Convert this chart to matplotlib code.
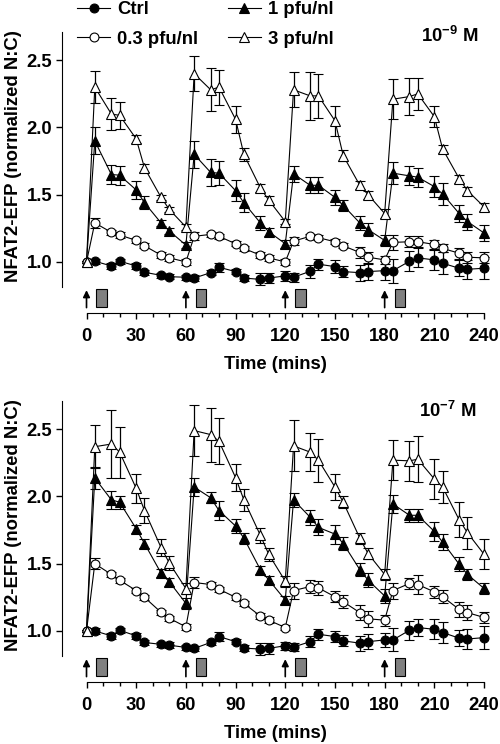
import numpy as np
import matplotlib
matplotlib.use('Agg')
import matplotlib.pyplot as plt
from matplotlib.lines import Line2D
from matplotlib.patches import Rectangle

plt.rcParams['font.family'] = ['Liberation Sans', 'DejaVu Sans']
plt.rcParams['font.weight'] = 'bold'
plt.rcParams['axes.labelweight'] = 'bold'
plt.rcParams['font.size'] = 13.3
plt.rcParams['mathtext.fontset'] = 'custom'
plt.rcParams['mathtext.rm'] = 'Liberation Sans:bold'
plt.rcParams['mathtext.bf'] = 'Liberation Sans:bold'
plt.rcParams['mathtext.it'] = 'Liberation Sans:bold'

# time points (mins)
t = [0, 5, 15, 20, 30, 35, 45, 50, 60, 65, 75, 80, 90, 95, 105, 110,
     120, 125, 135, 140, 150, 155, 165, 170, 180, 185, 195, 200, 210, 215, 225, 230, 240]

labels = ['Ctrl', '0.3 pfu/nl', '1 pfu/nl', '3 pfu/nl']
stim_times = [0, 60, 120, 180]

# 10^-9 M
ctrl_9 = [1.00, 1.005, 0.97, 1.005, 0.97, 0.923, 0.90, 0.89, 0.886, 0.88, 0.92, 0.96, 0.928, 0.88, 0.87, 0.88,
          0.896, 0.886, 0.93, 0.983, 0.965, 0.928, 0.92, 0.928, 0.935, 0.935, 1.005, 1.03, 1.015, 0.99, 0.953, 0.945, 0.953]
ctrl_9_err = [0.01, 0.02, 0.02, 0.02, 0.02, 0.02, 0.02, 0.02, 0.02, 0.02, 0.02, 0.035, 0.02, 0.02, 0.045, 0.04,
              0.035, 0.035, 0.05, 0.04, 0.05, 0.04, 0.06, 0.06, 0.07, 0.09, 0.075, 0.07, 0.075, 0.08, 0.06, 0.07, 0.08]
low_9 = [1.0, 1.29, 1.22, 1.20, 1.16, 1.12, 1.05, 1.03, 1.0, 1.19, 1.205, 1.19, 1.135, 1.10, 1.05, 1.03,
         1.0, 1.155, 1.19, 1.18, 1.15, 1.12, 1.07, 1.035, 1.015, 1.145, 1.15, 1.15, 1.13, 1.10, 1.065, 1.035, 1.03]
low_9_err = [0.01, 0.04, 0.02, 0.02, 0.02, 0.02, 0.02, 0.02, 0.02, 0.03, 0.02, 0.02, 0.02, 0.02, 0.02, 0.02,
             0.02, 0.03, 0.02, 0.02, 0.02, 0.02, 0.04, 0.04, 0.03, 0.055, 0.04, 0.04, 0.035, 0.03, 0.04, 0.04, 0.04]
mid_9 = [1.0, 1.90, 1.65, 1.645, 1.535, 1.44, 1.29, 1.23, 1.125, 1.80, 1.665, 1.66, 1.53, 1.44, 1.29, 1.225,
         1.135, 1.655, 1.57, 1.57, 1.48, 1.42, 1.29, 1.24, 1.16, 1.66, 1.64, 1.63, 1.56, 1.505, 1.36, 1.30, 1.215]
mid_9_err = [0.01, 0.10, 0.07, 0.07, 0.07, 0.05, 0.02, 0.02, 0.02, 0.10, 0.10, 0.09, 0.08, 0.07, 0.05, 0.03,
             0.03, 0.06, 0.06, 0.06, 0.055, 0.04, 0.05, 0.05, 0.04, 0.08, 0.07, 0.07, 0.08, 0.08, 0.06, 0.06, 0.06]
high_9 = [1.0, 2.30, 2.10, 2.09, 1.915, 1.70, 1.48, 1.39, 1.26, 2.40, 2.28, 2.30, 2.06, 1.80, 1.55, 1.46,
          1.30, 2.28, 2.235, 2.235, 2.05, 1.79, 1.57, 1.50, 1.36, 2.21, 2.23, 2.25, 2.08, 1.84, 1.62, 1.53, 1.41]
high_9_err = [0.01, 0.12, 0.12, 0.10, 0.03, 0.03, 0.02, 0.02, 0.02, 0.13, 0.16, 0.13, 0.10, 0.05, 0.03, 0.03,
              0.02, 0.13, 0.18, 0.165, 0.11, 0.04, 0.03, 0.03, 0.03, 0.15, 0.14, 0.12, 0.08, 0.03, 0.03, 0.03, 0.03]

# 10^-7 M
ctrl_7 = [1.0, 1.0, 0.963, 1.005, 0.963, 0.914, 0.90, 0.894, 0.877, 0.87, 0.914, 0.958, 0.92, 0.872, 0.865, 0.87,
          0.89, 0.88, 0.92, 0.975, 0.958, 0.926, 0.909, 0.92, 0.933, 0.933, 1.005, 1.025, 1.012, 0.988, 0.946, 0.94, 0.95]
ctrl_7_err = [0.01, 0.02, 0.02, 0.02, 0.02, 0.02, 0.02, 0.02, 0.02, 0.02, 0.02, 0.035, 0.02, 0.02, 0.045, 0.04,
              0.03, 0.03, 0.04, 0.04, 0.04, 0.04, 0.055, 0.055, 0.055, 0.085, 0.07, 0.06, 0.075, 0.075, 0.06, 0.075, 0.085]
low_7 = [1.0, 1.50, 1.42, 1.377, 1.30, 1.25, 1.138, 1.094, 1.03, 1.36, 1.345, 1.31, 1.25, 1.205, 1.11, 1.08,
         1.025, 1.30, 1.33, 1.32, 1.254, 1.217, 1.136, 1.09, 1.08, 1.30, 1.353, 1.345, 1.29, 1.254, 1.16, 1.136, 1.10]
low_7_err = [0.01, 0.04, 0.02, 0.02, 0.02, 0.02, 0.02, 0.02, 0.02, 0.04, 0.02, 0.02, 0.02, 0.02, 0.02, 0.02,
             0.02, 0.06, 0.05, 0.05, 0.04, 0.05, 0.055, 0.06, 0.04, 0.06, 0.04, 0.07, 0.045, 0.05, 0.057, 0.055, 0.04]
mid_7 = [1.0, 2.137, 1.975, 1.957, 1.76, 1.65, 1.43, 1.365, 1.205, 2.07, 1.99, 1.895, 1.78, 1.69, 1.455, 1.38,
         1.23, 1.974, 1.846, 1.77, 1.72, 1.65, 1.456, 1.377, 1.26, 1.944, 1.86, 1.86, 1.74, 1.66, 1.496, 1.42, 1.316]
mid_7_err = [0.01, 0.08, 0.065, 0.05, 0.03, 0.03, 0.03, 0.03, 0.04, 0.07, 0.04, 0.07, 0.05, 0.04, 0.03, 0.03,
             0.03, 0.05, 0.055, 0.06, 0.07, 0.05, 0.05, 0.05, 0.05, 0.07, 0.05, 0.05, 0.07, 0.06, 0.05, 0.04, 0.04]
high_7 = [1.0, 2.37, 2.39, 2.33, 2.06, 1.895, 1.62, 1.505, 1.315, 2.49, 2.46, 2.41, 2.14, 1.975, 1.71, 1.57,
          1.37, 2.376, 2.33, 2.27, 2.07, 1.957, 1.69, 1.575, 1.42, 2.27, 2.265, 2.277, 2.13, 2.07, 1.826, 1.73, 1.57]
high_7_err = [0.01, 0.16, 0.25, 0.19, 0.11, 0.095, 0.06, 0.05, 0.04, 0.19, 0.20, 0.17, 0.10, 0.08, 0.055, 0.05,
              0.04, 0.19, 0.14, 0.16, 0.10, 0.045, 0.04, 0.04, 0.04, 0.15, 0.15, 0.17, 0.15, 0.12, 0.13, 0.12, 0.11]

styles = [('o', 'black', 6.4), ('o', 'white', 6.4), ('^', 'black', 7), ('^', 'white', 7)]


def draw_panel(ax, series):
    for (vals, errs), (mk, fc, ms) in zip(series, styles):
        ax.errorbar(t, vals, yerr=errs, color='black', lw=0.8, marker=mk, ms=ms, mfc=fc,
                    mec='black', mew=0.8, capsize=3.5, elinewidth=0.9, capthick=0.9, clip_on=False)
    for s in stim_times:
        ax.annotate('', xy=(s, 0.79), xytext=(s, 0.66),
                    arrowprops=dict(arrowstyle='-|>', color='black', lw=1.2, mutation_scale=10,
                                    shrinkA=0, shrinkB=0))
        ax.add_patch(Rectangle((s + 6, 0.667), 6.3, 0.13, fc='#808080', ec='black', lw=0.8))
    ax.set_xlim(-14.8, 243)
    ax.set_ylim(0.62, 2.71)
    for side in ['top', 'right']:
        ax.spines[side].set_visible(False)
    ax.spines['left'].set_bounds(0.81, 2.71)
    ax.spines['bottom'].set_bounds(0, 240)
    ax.set_xticks(range(0, 241, 30))
    ax.set_xticks(range(0, 241, 10), minor=True)
    ax.set_yticks([1.0, 1.5, 2.0, 2.5])
    ax.set_yticklabels(['1.0', '1.5', '2.0', '2.5'])
    ax.tick_params(direction='out', length=4, width=1)
    ax.tick_params(axis='x', pad=7)
    ax.tick_params(axis='y', pad=3)
    ax.tick_params(which='minor', direction='out', length=3, width=1)
    for lab in ax.get_xticklabels() + ax.get_yticklabels():
        lab.set_fontweight('bold')
    ax.set_xlabel('Time (mins)', labelpad=7.5, fontweight='bold')
    ax.set_ylabel('NFAT2-EFP (normalized N:C)', fontweight='bold')
    ax.yaxis.set_label_coords(-0.094, 0.56)


fig = plt.figure(figsize=(5, 7.44), dpi=100)
ax_top = fig.add_axes([62 / 500, 1 - 313 / 744, 427 / 500, 281 / 744])
ax_bot = fig.add_axes([62 / 500, 1 - 682 / 744, 427 / 500, 281 / 744])

draw_panel(ax_top, [(ctrl_9, ctrl_9_err), (low_9, low_9_err), (mid_9, mid_9_err), (high_9, high_9_err)])
draw_panel(ax_bot, [(ctrl_7, ctrl_7_err), (low_7, low_7_err), (mid_7, mid_7_err), (high_7, high_7_err)])

fig.text(421 / 500, 1 - 36 / 744, r'10$^{-9}$ M', ha='left', va='center', fontweight='bold')
fig.text(419 / 500, 1 - 411 / 744, r'10$^{-7}$ M', ha='left', va='center', fontweight='bold')

handles = [Line2D([], [], color='black', lw=0.8, marker=mk, ms=ms, mfc=fc, mec='black', mew=0.8)
           for mk, fc, ms in styles]
fig.legend(handles, labels, ncol=2, loc='upper left', bbox_to_anchor=(77 / 500, 1 - 1 / 744),
           frameon=False, borderpad=0, borderaxespad=0, handlelength=1.8, handletextpad=0.38,
           columnspacing=1.6, labelspacing=0.7, prop={'weight': 'bold', 'size': 13.3})

fig.savefig('out.png', dpi=100)
